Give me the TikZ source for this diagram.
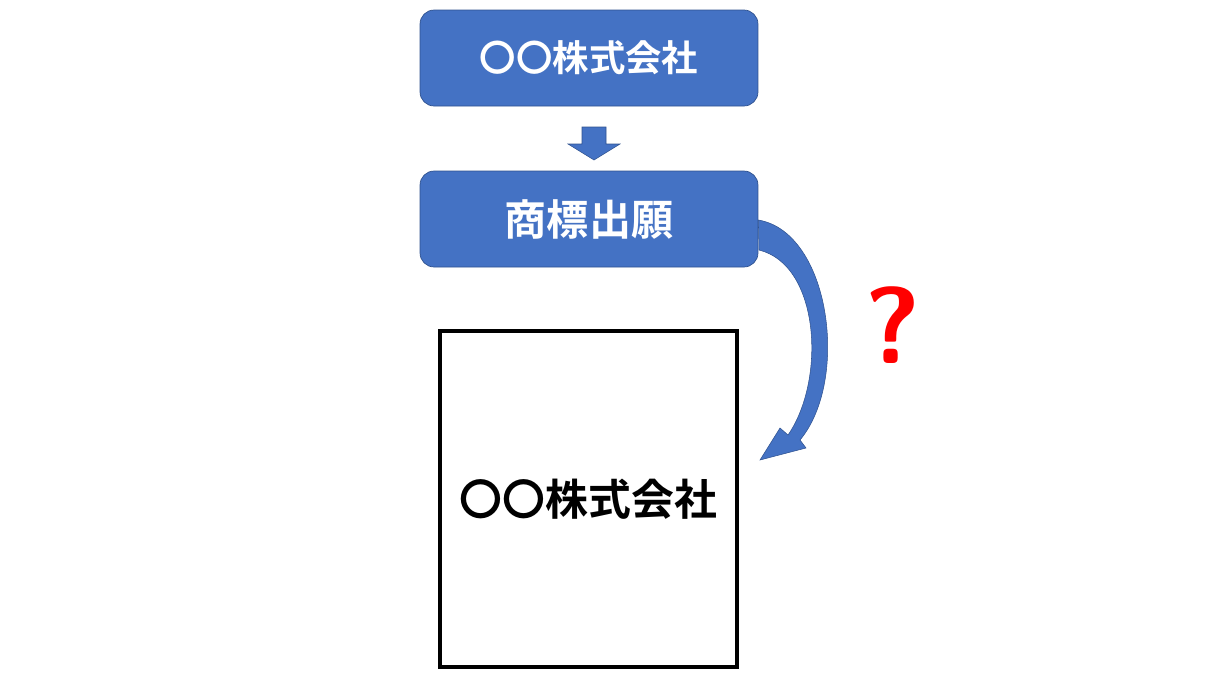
\documentclass[tikz,border=0pt]{standalone}
\usepackage{fontspec}
\newfontfamily\cjk{Noto Sans CJK JP Bold}
\usetikzlibrary{positioning}
\definecolor{boxblue}{HTML}{4472C4}
\definecolor{edgeblue}{HTML}{2F528F}
\begin{document}
\begin{tikzpicture}[x=0.02cm,y=-0.02cm,
	stage/.style={draw=edgeblue, fill=boxblue, rounded corners=8pt, minimum width=6.76cm, minimum height=1.92cm, text=white, font=\cjk\fontsize{20.7}{22}\selectfont},
	company/.style={draw=black, line width=2.2pt, minimum width=5.94cm, minimum height=6.72cm, font=\cjk\fontsize{24.4}{26}\selectfont}]
		\useasboundingbox (0,0) rectangle (1216,681);
		\node (co) [stage] at (589,58) {〇〇株式会社};
		\node (app) [stage, font=\cjk\fontsize{24}{26}\selectfont] at (589,219) {商標出願};
		\node (box) [company] at (588.5,499) {〇〇株式会社};
		\node (q) [text=red, font=\sffamily\bfseries\fontsize{62}{66}\selectfont] at (893,325) {?};
		% small down arrow
		\fill[boxblue, draw=edgeblue, line width=0.3pt] (582,127) -- (606,127) -- (606,144) -- (620,144) -- (594,160) -- (568,144) -- (582,144) -- cycle;
		% curved arrow
		\fill[boxblue, draw=edgeblue, line width=0.3pt] (app.east) ++(0,1) .. controls (830,232) and (850,380) .. (800,440) -- (806,448) -- (760,460) -- (780,428) -- (788,435) .. controls (826,380) and (820,265) .. (759,250) -- cycle;
\end{tikzpicture}
\end{document}
